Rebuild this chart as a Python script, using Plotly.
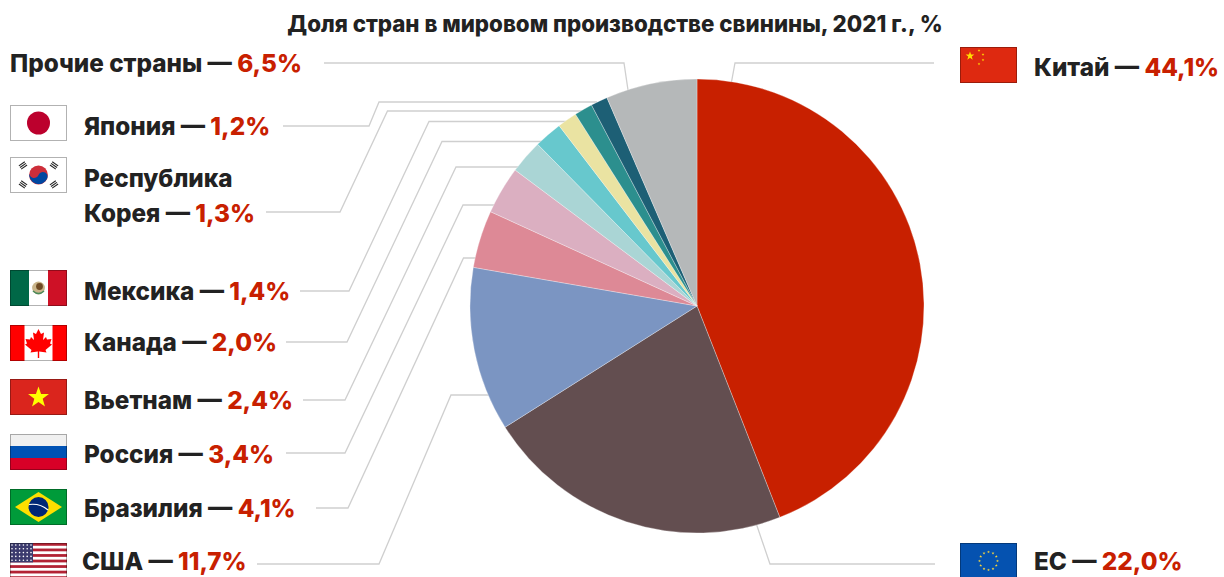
import base64
import math
import plotly.graph_objects as go

W, H = 1224, 577
TITLE = "Доля стран в мировом производстве свинины, 2021 г., %"

# .....Data.....
countries = ["Китай", "ЕС", "США", "Бразилия", "Россия", "Вьетнам", "Канада",
             "Мексика", "Корея", "Япония", "Прочие страны"]
shares = [44.1, 22.0, 11.7, 4.1, 3.4, 2.4, 2.0, 1.4, 1.3, 1.2, 6.5]
colors = ["#c82000", "#634e50", "#7b95c2", "#dd8996", "#dbafc1", "#aad5d5",
          "#67c8cd", "#eae3a2", "#2c8f8e", "#1d5f75", "#b5b8b9"]

# .....Layout in pixels.....
CX, CY, R = 697, 306, 227
RED = "#c82000"
DARK = "#222222"
LINE = "#cfcfcf"
FONT = "Inter"
LABEL_SIZE = 24.3
TITLE_SIZE = 22.3
WEIGHT = 800

# label x, label y
label_pos = {
    "Китай": (1033, 67), "ЕС": (1033, 561), "США": (81, 561),
    "Бразилия": (83, 508), "Россия": (83, 454), "Вьетнам": (83, 400),
    "Канада": (83, 342), "Мексика": (83, 291), "Корея": (83, 213),
    "Япония": (83, 126), "Прочие страны": (9, 63),
}
# flag top y, left x
flag_pos = {
    "Китай": (47, 960), "ЕС": (543, 960), "США": (543, 10), "Бразилия": (489, 10),
    "Россия": (434, 10), "Вьетнам": (379, 10), "Канада": (325, 10),
    "Мексика": (270, 10), "Корея": (157, 10), "Япония": (105, 10),
}
# leader polylines, they run on under the pie
leaders = {
    "Китай": [(934, 63), (735, 63), (730, 90)],
    "ЕС": [(935, 564), (770, 564), (755, 520)],
    "США": [(257, 564), (379, 564), (451, 395), (490, 395)],
    "Бразилия": [(316, 508), (348, 508), (463.5, 258), (490, 258)],
    "Россия": [(286, 453), (345, 453), (463, 205), (500, 205)],
    "Вьетнам": [(303, 400), (345, 400), (456, 167), (530, 167)],
    "Канада": [(286, 342), (347, 342), (442, 141.5), (550, 141.5)],
    "Мексика": [(300, 291), (349, 291), (429, 121.5), (570, 121.5)],
    "Корея": [(266, 212), (340, 212), (387.5, 111), (585, 111)],
    "Япония": [(283, 126), (369, 126), (379, 102), (597, 102)],
    "Прочие страны": [(324, 63), (624, 63), (628, 90)],
}


def px(x):
    return x / W


def py(y):
    return 1 - y / H


def star(cx, cy, r, fill):
    pts = []
    for i in range(10):
        a = -math.pi / 2 + i * math.pi / 5
        rr = r if i % 2 == 0 else r * 0.4
        pts.append(f"{cx + rr * math.cos(a):.2f},{cy + rr * math.sin(a):.2f}")
    return f'<polygon points="{" ".join(pts)}" fill="{fill}"/>'


def trigram(cx, cy, angle):
    bars = "".join(f'<rect x="-3.6" y="{dy}" width="7.2" height="1.1" fill="#222"/>'
                   for dy in (-2.6, -0.6, 1.4))
    return f'<g transform="translate({cx} {cy}) rotate({angle})">{bars}</g>'


def usa():
    out = '<rect width="57" height="36" fill="#fff"/>'
    for i in range(0, 13, 2):
        out += f'<rect y="{i * 36 / 13:.2f}" width="57" height="{36 / 13:.2f}" fill="#b22234"/>'
    out += '<rect width="23" height="19.4" fill="#3c3b6e"/>'
    for r in range(5):
        for c in range(6):
            out += f'<circle cx="{2 + c * 3.8:.1f}" cy="{2 + r * 3.8:.1f}" r="0.8" fill="#fff"/>'
    return out


LEAF = ("M28.5 4 L31 9 L34 7.5 L33 15 L36 12 L37 14.5 L41.5 14 L40 18.5 L42 19.5 "
        "L35.5 25 L36.5 27.5 L29.2 26.5 L29.2 33 L27.8 33 L27.8 26.5 L20.5 27.5 "
        "L21.5 25 L15 19.5 L17 18.5 L15.5 14 L20 14.5 L21 12 L24 15 L23 7.5 L26 9 Z")

flags = {
    "Китай": '<rect width="57" height="36" fill="#de2910"/>' + star(10, 9, 4.6, "#ffde00")
             + "".join(star(x, y, 1.4, "#ffde00") for x, y in [(19, 3.5), (23, 7.5), (23, 13), (19, 17)]),
    "ЕС": '<rect width="57" height="36" fill="#0552b0"/>'
          + "".join(star(28.5 + 9 * math.cos(i * math.pi / 6), 18 + 9 * math.sin(i * math.pi / 6), 1.5, "#ffd83a")
                    for i in range(12)),
    "США": usa(),
    "Бразилия": '<rect width="57" height="36" fill="#009b3a"/>'
                '<polygon points="5,18 28.5,3 52,18 28.5,33" fill="#fedf00"/>'
                '<circle cx="28.5" cy="18" r="10" fill="#002776"/>'
                '<path d="M19 15.5 Q30 14 38 21" stroke="#fff" stroke-width="1.2" fill="none"/>',
    "Россия": '<rect width="57" height="12" fill="#f0f0f0"/>'
              '<rect y="12" width="57" height="12" fill="#0052b4"/>'
              '<rect y="24" width="57" height="12" fill="#d80027"/>',
    "Вьетнам": '<rect width="57" height="36" fill="#da251d"/>' + star(28.5, 18.5, 11, "#ffff00"),
    "Канада": '<rect width="57" height="36" fill="#fff"/>'
              '<rect width="14.5" height="36" fill="#ff0000"/>'
              '<rect x="42.5" width="14.5" height="36" fill="#ff0000"/>'
              f'<path d="{LEAF}" fill="#ff0000"/>',
    "Мексика": '<rect width="57" height="36" fill="#fff"/>'
               '<rect width="19" height="36" fill="#006847"/>'
               '<rect x="38" width="19" height="36" fill="#ce1126"/>'
               '<circle cx="28.5" cy="18" r="6.4" fill="#c9b48a"/>'
               '<circle cx="29.5" cy="16.5" r="3.4" fill="#6f4a24"/>'
               '<path d="M23 21 Q28.5 26 34 21" stroke="#4a8a5a" stroke-width="1.5" fill="none"/>',
    "Корея": '<rect width="57" height="36" fill="#fff"/>'
             '<circle cx="28.5" cy="18" r="9.4" fill="#cd2e3a"/>'
             '<path d="M19.6 15 A9.4 9.4 0 0 0 37.4 21 A4.7 4.7 0 0 0 28.5 18 A4.7 4.7 0 0 1 19.6 15 Z" fill="#0047a0"/>'
             + trigram(13, 8.5, -35) + trigram(44, 8.5, 35) + trigram(13, 27.5, 35) + trigram(44, 27.5, -35),
    "Япония": '<rect width="57" height="36" fill="#fff"/>'
              '<circle cx="28.5" cy="18" r="11.5" fill="#bc002d"/>',
}


def svg_uri(body):
    svg = ('<svg xmlns="http://www.w3.org/2000/svg" width="57" height="36" viewBox="0 0 57 36">'
           + body + '<rect x="0.5" y="0.5" width="56" height="35" fill="none" stroke="#000" '
           'stroke-opacity="0.3"/></svg>')
    return "data:image/svg+xml;base64," + base64.b64encode(svg.encode()).decode()


# .....Graph.....
fig = go.Figure(go.Pie(
    labels=countries,
    values=shares,
    sort=False,
    direction="clockwise",
    rotation=0,
    textinfo="none",
    hoverinfo="label+value",
    showlegend=False,
    marker=dict(colors=colors, line=dict(color="#ffffff", width=0.3)),
    domain=dict(x=[px(CX - R), px(CX + R)], y=[py(CY + R), py(CY - R)]),
))

annotations = []
for name, value in zip(countries, shares):
    x, y = label_pos[name]
    num = f"{value:.1f}".replace(".", ",")
    text = f'{name} — <span style="color:{RED}">{num}%</span>'
    annotations.append(dict(x=px(x), y=py(y), text=text, showarrow=False, xanchor="left",
                            yanchor="middle", xref="paper", yref="paper", align="left",
                            borderpad=0))
annotations.append(dict(x=px(83), y=py(178), text="Республика", showarrow=False, borderpad=0,
                        xanchor="left", yanchor="middle", xref="paper", yref="paper"))

shapes = []
for name, pts in leaders.items():
    path = "M " + " L ".join(f"{px(x):.5f} {py(y):.5f}" for x, y in pts)
    shapes.append(dict(type="path", path=path, xref="paper", yref="paper", layer="below",
                       line=dict(color=LINE, width=1.3)))

images = []
for name, (top, left) in flag_pos.items():
    images.append(dict(source=svg_uri(flags[name]), xref="paper", yref="paper", x=px(left), y=py(top),
                       sizex=57 / W, sizey=36 / H, xanchor="left", yanchor="top", sizing="stretch",
                       layer="above"))

fig.update_layout(
    width=W,
    height=H,
    margin=dict(l=0, r=0, t=0, b=0),
    paper_bgcolor="#ffffff",
    font=dict(family=FONT, size=LABEL_SIZE, color=DARK, weight=WEIGHT),
    title=dict(text=TITLE, x=px(615), xanchor="center", y=py(24), yanchor="middle",
               font=dict(family=FONT, size=TITLE_SIZE, color=DARK, weight=WEIGHT)),
    annotations=annotations,
    shapes=shapes,
    images=images,
)

fig.write_html("out.html", config=dict(displayModeBar=False),
               post_script="document.body.style.margin='0';")
